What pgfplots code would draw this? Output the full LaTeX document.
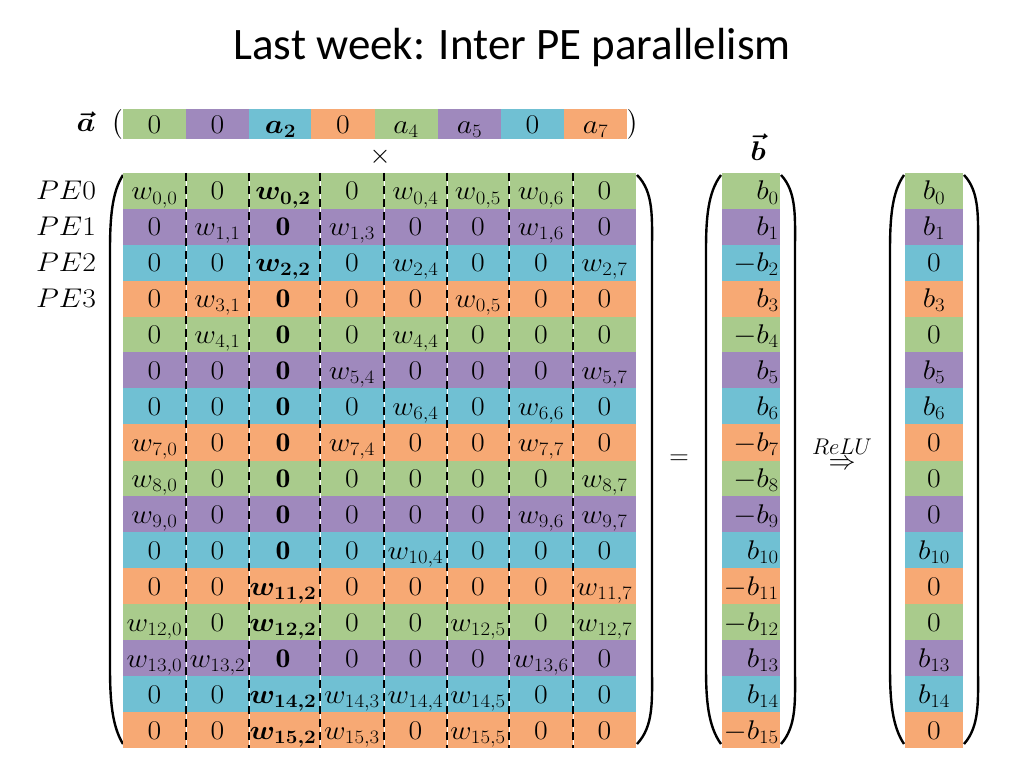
\documentclass[border=0pt]{standalone}
\usepackage{fix-cm}
\usepackage{fontspec}
\usepackage{amsmath}
\usepackage{bm}
\usepackage{graphicx}
\usepackage{pgfplots}
\usepackage{pgfplotstable}
\pgfplotsset{compat=1.18}
\newfontfamily\titlefont{Carlito}
\definecolor{cg}{HTML}{A9CB8C}
\definecolor{cp}{HTML}{9F89BD}
\definecolor{cb}{HTML}{70C0D3}
\definecolor{co}{HTML}{F7A974}
\newcommand\cellfont{\fontsize{27}{31}\selectfont}
\tikzset{cellw/.store in=\cellw, cellh/.store in=\cellh, cellw=10pt, cellh=10pt}
\pgfdeclareplotmark{cell}{\pgfpathrectangle{\pgfpoint{-0.5*\cellw}{-0.5*\cellh}}{\pgfpoint{\cellw}{\cellh}}\pgfusepathqfill}
\def\ry{173+35.9375*(\thisrow{r}+0.5)}

% matrix W, one row per matrix row, one column per matrix column
\pgfplotstableread{
r c0 c1 c2 c3 c4 c5 c6 c7
0 $w_{0,0}$ $0$ $\bm{w_{0,2}}$ $0$ $w_{0,4}$ $w_{0,5}$ $w_{0,6}$ $0$
1 $0$ $w_{1,1}$ $\mathbf{0}$ $w_{1,3}$ $0$ $0$ $w_{1,6}$ $0$
2 $0$ $0$ $\bm{w_{2,2}}$ $0$ $w_{2,4}$ $0$ $0$ $w_{2,7}$
3 $0$ $w_{3,1}$ $\mathbf{0}$ $0$ $0$ $w_{0,5}$ $0$ $0$
4 $0$ $w_{4,1}$ $\mathbf{0}$ $0$ $w_{4,4}$ $0$ $0$ $0$
5 $0$ $0$ $\mathbf{0}$ $w_{5,4}$ $0$ $0$ $0$ $w_{5,7}$
6 $0$ $0$ $\mathbf{0}$ $0$ $w_{6,4}$ $0$ $w_{6,6}$ $0$
7 $w_{7,0}$ $0$ $\mathbf{0}$ $w_{7,4}$ $0$ $0$ $w_{7,7}$ $0$
8 $w_{8,0}$ $0$ $\mathbf{0}$ $0$ $0$ $0$ $0$ $w_{8,7}$
9 $w_{9,0}$ $0$ $\mathbf{0}$ $0$ $0$ $0$ $w_{9,6}$ $w_{9,7}$
10 $0$ $0$ $\mathbf{0}$ $0$ $w_{10,4}$ $0$ $0$ $0$
11 $0$ $0$ $\bm{w_{11,2}}$ $0$ $0$ $0$ $0$ $w_{11,7}$
12 $w_{12,0}$ $0$ $\bm{w_{12,2}}$ $0$ $0$ $w_{12,5}$ $0$ $w_{12,7}$
13 $w_{13,0}$ $w_{13,2}$ $\mathbf{0}$ $0$ $0$ $0$ $w_{13,6}$ $0$
14 $0$ $0$ $\bm{w_{14,2}}$ $w_{14,3}$ $w_{14,4}$ $w_{14,5}$ $0$ $0$
15 $0$ $0$ $\bm{w_{15,2}}$ $w_{15,3}$ $0$ $w_{15,5}$ $0$ $0$
}\matW

% vector b and ReLU(b)
\pgfplotstableread{
r b y
0 $b_0$ $b_0$
1 $b_1$ $b_1$
2 $-b_2$ $0$
3 $b_3$ $b_3$
4 $-b_4$ $0$
5 $b_5$ $b_5$
6 $b_6$ $b_6$
7 $-b_7$ $0$
8 $-b_8$ $0$
9 $-b_9$ $0$
10 $b_{10}$ $b_{10}$
11 $-b_{11}$ $0$
12 $-b_{12}$ $0$
13 $b_{13}$ $b_{13}$
14 $b_{14}$ $b_{14}$
15 $-b_{15}$ $0$
}\vecB

% vector a
\pgfplotstableread{
x l
154.5 $0$
217.5 $0$
280.5 $\bm{a_2}$
343 $0$
406 $a_4$
469.5 $a_5$
532.5 $0$
595.5 $a_7$
}\vecA

% PE labels
\pgfplotstableread{
r l
0 $PE0$
1 $PE1$
2 $PE2$
3 $PE3$
}\peLab

% dashed column separators (x, y), nan = break
\pgfplotstableread{
x y
186 173
186 748
nan nan
249 173
249 748
nan nan
320 173
320 748
nan nan
384 173
384 748
nan nan
447 173
447 748
nan nan
509 173
509 748
nan nan
573 173
573 748
}\seps

\begin{document}
\begin{tikzpicture}
\begin{axis}[
  width=1024pt, height=768pt, scale only axis,
  xmin=0, xmax=1024, ymin=0, ymax=768, y dir=reverse,
  hide axis, clip=false, set layers, unbounded coords=jump,
  txt/.style={on layer=axis foreground, only marks, mark=none, nodes near coords={\scalebox{1.1}[1]{\pgfplotspointmeta}}, point meta=explicit symbolic,
    every node near coord/.append style={font=\cellfont, anchor=base, yshift=-9pt, inner sep=0pt, text=black}},
  rowbg/.style={on layer=axis background, only marks, mark=cell, mark options={draw=none, fill=#1, cellw=513pt, cellh=36.4pt}},
  colbg/.style={on layer=axis background, only marks, mark=cell, mark options={draw=none, fill=#1, cellw=58pt, cellh=36.4pt}},
  abg/.style={on layer=axis background, only marks, mark=cell, mark options={draw=none, fill=#1, cellw=63.4pt, cellh=30pt}},
]
\path (axis cs:0,0) rectangle (axis cs:1024,768);
% ---- row backgrounds of W
\addplot[rowbg=cg] table[x expr=379.5, y expr=\ry, row sep=\\] {r\\0\\4\\8\\12\\};
\addplot[rowbg=cp] table[x expr=379.5, y expr=\ry, row sep=\\] {r\\1\\5\\9\\13\\};
\addplot[rowbg=cb] table[x expr=379.5, y expr=\ry, row sep=\\] {r\\2\\6\\10\\14\\};
\addplot[rowbg=co] table[x expr=379.5, y expr=\ry, row sep=\\] {r\\3\\7\\11\\15\\};
% ---- b and ReLU(b) backgrounds
\addplot[colbg=cg] table[x=x, y expr=\ry, row sep=\\] {x r\\751 0\\751 4\\751 8\\751 12\\934 0\\934 4\\934 8\\934 12\\};
\addplot[colbg=cp] table[x=x, y expr=\ry, row sep=\\] {x r\\751 1\\751 5\\751 9\\751 13\\934 1\\934 5\\934 9\\934 13\\};
\addplot[colbg=cb] table[x=x, y expr=\ry, row sep=\\] {x r\\751 2\\751 6\\751 10\\751 14\\934 2\\934 6\\934 10\\934 14\\};
\addplot[colbg=co] table[x=x, y expr=\ry, row sep=\\] {x r\\751 3\\751 7\\751 11\\751 15\\934 3\\934 7\\934 11\\934 15\\};
% ---- a backgrounds
\addplot[abg=cg] coordinates {(154.5,124) (406,124)};
\addplot[abg=cp] coordinates {(217.5,124) (469.5,124)};
\addplot[abg=cb] coordinates {(280.5,124) (532.5,124)};
\addplot[abg=co] coordinates {(343,124) (595.5,124)};
% ---- dashed column separators
\addplot[on layer=axis foreground, draw=white, line width=0.7pt, mark=none] table[x=x, y=y] \seps;
\addplot[on layer=axis foreground, draw=black, line width=1.05pt, dash pattern=on 8pt off 5pt, mark=none] table[x=x, y=y] \seps;
% ---- matrix entries
\addplot[txt] table[x expr=154.5, y expr=\ry, meta=c0] \matW;
\addplot[txt] table[x expr=217.5, y expr=\ry, meta=c1] \matW;
\addplot[txt] table[x expr=283, y expr=\ry, meta=c2] \matW;
\addplot[txt] table[x expr=352, y expr=\ry, meta=c3] \matW;
\addplot[txt] table[x expr=415.5, y expr=\ry, meta=c4] \matW;
\addplot[txt] table[x expr=478, y expr=\ry, meta=c5] \matW;
\addplot[txt] table[x expr=541, y expr=\ry, meta=c6] \matW;
\addplot[txt] table[x expr=604.5, y expr=\ry, meta=c7] \matW;
% ---- b entries (right aligned) and ReLU(b)
\addplot[txt, every node near coord/.append style={anchor=base east}] table[x expr=779, y expr=\ry, meta=b] \vecB;
\addplot[txt] table[x expr=934, y expr=\ry, meta=y] \vecB;
% ---- a entries
\addplot[txt, every node near coord/.append style={yshift=-0.5pt}] table[x=x, y expr=124, meta=l] \vecA;
% ---- PE labels
\addplot[txt, every node near coord/.append style={anchor=base west}] table[x expr=36, y expr=\ry, meta=l] \peLab;
% ---- parentheses
\def\lparen#1#2{\draw[line width=2.4pt] (axis cs:#1,175) .. controls (axis cs:#2+2,192) and (axis cs:#2,218) .. (axis cs:#2,250) -- (axis cs:#2,668) .. controls (axis cs:#2,700) and (axis cs:#2+2,726) .. (axis cs:#1,744);}
\lparen{123}{110}
\lparen{637}{652}
\lparen{721}{706}
\lparen{781}{795}
\lparen{904}{890}
\lparen{964}{978}
% ---- labels
\node[font=\cellfont, inner sep=0pt] at (axis cs:86,122) {\scalebox{1.1}[1]{$\bm{\vec{a}}$}};
\node[font=\cellfont, inner sep=0pt] at (axis cs:117,124) {$\big($};
\node[font=\cellfont, inner sep=0pt] at (axis cs:633,124) {$\big)$};
\node[font=\cellfont, inner sep=0pt] at (axis cs:380,157) {$\times$};
\node[font=\cellfont, inner sep=0pt] at (axis cs:758,147) {\scalebox{1.1}[1]{$\bm{\vec{b}}$}};
\node[font=\cellfont, inner sep=0pt] at (axis cs:679,460) {$=$};
\node[font=\cellfont, inner sep=0pt] at (axis cs:842,453) {$\stackrel{\scalebox{1.2}{$\scriptstyle ReLU$}}{\Rightarrow}$};
\node[font=\titlefont\fontsize{45}{52}\selectfont, anchor=base] at (axis cs:512,60) {Last week: Inter PE parallelism};
\end{axis}
\end{tikzpicture}
\end{document}
